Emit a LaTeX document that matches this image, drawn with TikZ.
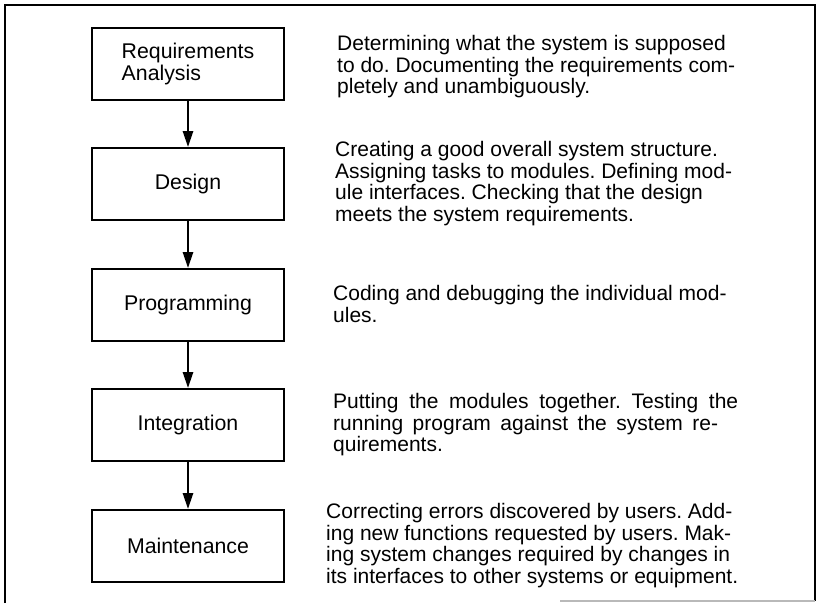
\documentclass[tikz,border=0pt]{standalone}
\usepackage{fontspec}
\setmainfont{Liberation Sans}
\usetikzlibrary{arrows.meta}
\begin{document}
\frenchspacing
\begin{tikzpicture}[x=1pt,y=-1pt,
  phase/.style={draw,line width=1.8pt,minimum width=192pt,minimum height=72pt,
    inner sep=0pt,align=left,font=\fontsize{21.3}{21.5}\selectfont},
  desc/.style={anchor=north west,inner sep=0pt,align=left,
    font=\fontsize{21}{21.6}\selectfont},
  flow/.style={line width=2.6pt,-{Triangle[length=16pt,width=10pt]}},
  frame/.style={line width=2.4pt}]
\useasboundingbox (0,0) rectangle (820,603);

% outer frame
\draw[frame] (5,603) -- (5,5) -- (815,5) -- (815,601);
\draw[gray!55,line width=1.5pt] (560,601) -- (815,601);

% phase boxes
\node[phase] (req)   at (188,64)  {Requirements\\Analysis};
\node[phase] (des)   at (188,184) {Design};
\node[phase] (prog)  at (188,305) {Programming};
\node[phase] (integ) at (188,425) {Integration};
\node[phase] (maint) at (188,546) {Maintenance};

% flow between phases
\draw[flow] (req.south)   -- (des.north);
\draw[flow] (des.south)   -- (prog.north);
\draw[flow] (prog.south)  -- (integ.north);
\draw[flow] (integ.south) -- (maint.north);

% descriptions
\node[desc] (treq) at (337,35) {Determining what the system is supposed\\
  to do. Documenting the requirements com-\\
  pletely and unambiguously.};
\node[desc] (tdes) at (335,141) {Creating a good overall system structure.\\
  Assigning tasks to modules. Defining mod-\\
  ule interfaces. Checking that the design\\
  meets the system requirements.};
\node[desc] (tprog) at (333,285) {Coding and debugging the individual mod-\\
  ules.};
\node[desc] (tinteg) at (333,393) {\makebox[405pt][s]{Putting the modules together. Testing the}\\
  \makebox[385pt][s]{running program against the system re-}\\
  quirements.};
\node[desc] (tmaint) at (326,503) {Correcting errors discovered by users. Add-\\
  ing new functions requested by users. Mak-\\
  ing system changes required by changes in\\
  its interfaces to other systems or equipment.};
\end{tikzpicture}
\end{document}
